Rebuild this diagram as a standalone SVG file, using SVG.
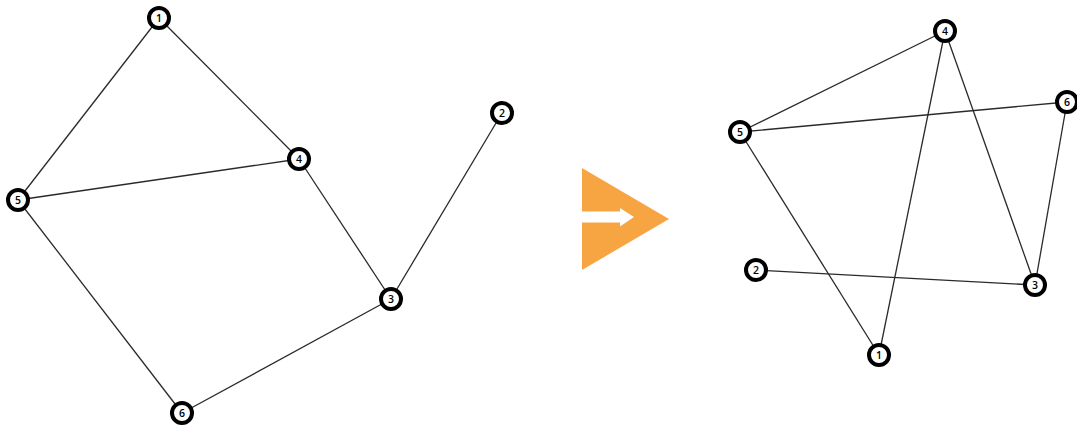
<svg xmlns="http://www.w3.org/2000/svg" width="1077" height="430" viewBox="0 0 1077 430">
<style>
.edge{stroke:#2a2a2a;stroke-width:1.3;fill:none}
.ring{fill:#fff;stroke:#000;stroke-width:4}
.lbl{font-family:"Open Sans","DejaVu Sans",sans-serif;font-size:10.5px;font-weight:600;fill:#000;text-anchor:middle;dominant-baseline:central}
</style>
<defs>
<g id="node"><circle r="10" class="ring"/></g>
</defs>
<rect width="1077" height="430" fill="#fff"/>
<g id="connectors">
<line class="edge" x1="159" y1="18" x2="18" y2="200"/>
<line class="edge" x1="159" y1="18" x2="299" y2="159"/>
<line class="edge" x1="18" y1="200" x2="299" y2="159"/>
<line class="edge" x1="299" y1="159" x2="391" y2="299"/>
<line class="edge" x1="502" y1="113" x2="391" y2="299"/>
<line class="edge" x1="18" y1="200" x2="182" y2="413"/>
<line class="edge" x1="182" y1="413" x2="391" y2="299"/>
<line class="edge" x1="740" y1="132" x2="945" y2="31"/>
<line class="edge" x1="740" y1="132" x2="1067" y2="102"/>
<line class="edge" x1="945" y1="31" x2="879" y2="355"/>
<line class="edge" x1="945" y1="31" x2="1035" y2="285"/>
<line class="edge" x1="1067" y1="102" x2="1035" y2="285"/>
<line class="edge" x1="740" y1="132" x2="879" y2="355"/>
<line class="edge" x1="756" y1="270" x2="1035" y2="285"/>
</g>
<g id="arrow">
<polygon points="582,168 669,219 582,270" fill="#F7A443"/>
<polygon points="582,211.5 620,211.5 620,208 634,217 620,226.5 620,222.5 582,222.5" fill="#fff"/>
</g>
<g id="L1"><use href="#node" x="159" y="18"/><text class="lbl" x="159" y="18">1</text></g>
<g id="L2"><use href="#node" x="502" y="113"/><text class="lbl" x="502" y="113">2</text></g>
<g id="L3"><use href="#node" x="391" y="299"/><text class="lbl" x="391" y="299">3</text></g>
<g id="L4"><use href="#node" x="299" y="159"/><text class="lbl" x="299" y="159">4</text></g>
<g id="L5"><use href="#node" x="18" y="200"/><text class="lbl" x="18" y="200">5</text></g>
<g id="L6"><use href="#node" x="182" y="413"/><text class="lbl" x="182" y="413">6</text></g>
<g id="R1"><use href="#node" x="879" y="355"/><text class="lbl" x="879" y="355">1</text></g>
<g id="R2"><use href="#node" x="756" y="270"/><text class="lbl" x="756" y="270">2</text></g>
<g id="R3"><use href="#node" x="1035" y="285"/><text class="lbl" x="1035" y="285">3</text></g>
<g id="R4"><use href="#node" x="945" y="31"/><text class="lbl" x="945" y="31">4</text></g>
<g id="R5"><use href="#node" x="740" y="132"/><text class="lbl" x="740" y="132">5</text></g>
<g id="R6"><use href="#node" x="1067" y="102"/><text class="lbl" x="1067" y="102">6</text></g>
</svg>
